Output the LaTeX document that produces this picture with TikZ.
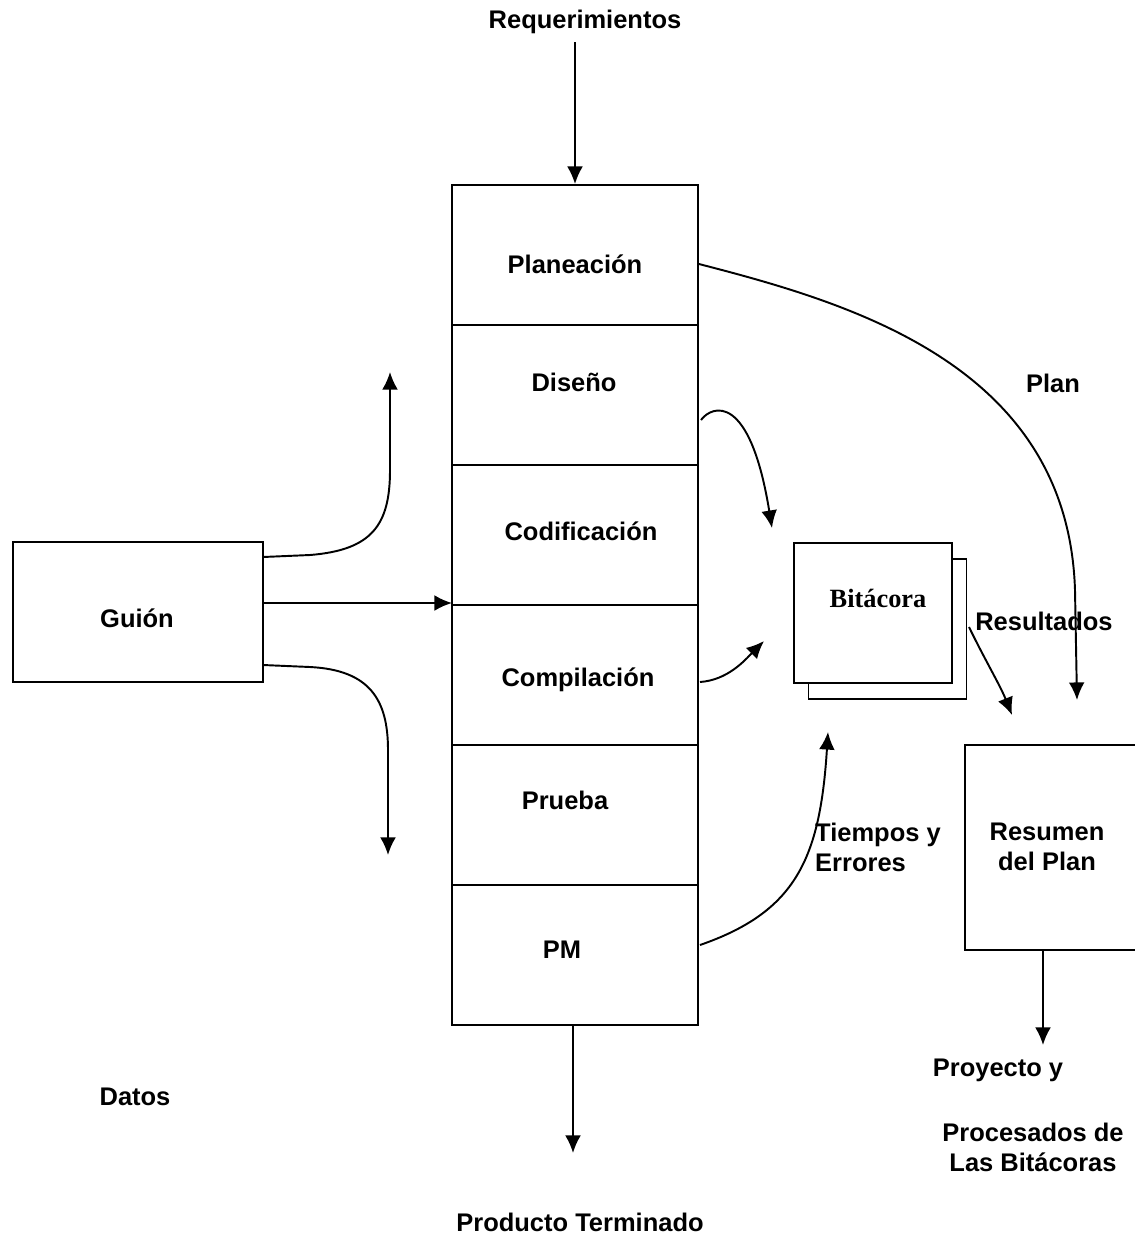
\documentclass[tikz,border=0pt]{standalone}
\usepackage{fontspec}
\setmainfont{Liberation Sans}
\newfontfamily\logfont{Liberation Serif}
\usetikzlibrary{arrows.meta}
\begin{document}
\begin{tikzpicture}[x=0.02cm,y=-0.02cm,
  line width=1.1pt,
  lbl/.style={font=\bfseries\fontsize{14.5}{17}\selectfont, inner sep=0pt, align=center},
  cell/.style={draw, minimum width=4.92cm, minimum height=2.8cm, inner sep=0pt},
  plainbox/.style={draw, fill=white, inner sep=0pt},
  flow/.style={-{Latex[length=10pt,width=9pt]}}]
\useasboundingbox (0,0) rectangle (1135,1259);

% main process column
\node[cell] (plan) at (575,255) {};
\node[cell] (dis)  at (575,395) {};
\node[cell] (cod)  at (575,535) {};
\node[cell] (comp) at (575,675) {};
\node[cell] (prue) at (575,815) {};
\node[cell] (pm)   at (575,955) {};
\node[lbl] (tplan) at (575,264) {Planeación};
\node[lbl] (tdis)  at (574,382) {Diseño};
\node[lbl] (tcod)  at (581,531) {Codificación};
\node[lbl] (tcomp) at (578,680) {Compilación};
\node[lbl] (tprue) at (565,800) {Prueba};
\node[lbl] (tpm)   at (562,950) {PM};

% inputs and outputs
\node[lbl] (req) at (585,22) {Requerimientos};
\coordinate (reqend) at (575,42);
\draw[flow] (reqend) -- (plan.north);

\node[draw, minimum width=5cm, minimum height=2.8cm, inner sep=0pt] (guion) at (138,612) {};
\node[lbl] (tguion) at (137,618) {Guión};
\coordinate (gin) at (452,603);
\draw[flow] (guion.east |- gin) -- (gin);
\coordinate (gup) at (390,372);
\coordinate (gdown) at (388,855);
\draw[flow] (263,557) -- (310,555) .. controls (372,550) and (390,525) .. (390,470) -- (gup);
\draw[flow] (263,665) -- (310,667) .. controls (370,670) and (388,700) .. (388,750) -- (gdown);

\node[lbl] (datos) at (135,1097) {Datos};

\coordinate (prodend) at (573,1153);
\draw[flow] (pm.south -| prodend) -- (prodend);
\node[lbl] (prod) at (580,1222) {Producto Terminado};

% log sheets
\node[plainbox, minimum width=3.16cm, minimum height=2.8cm] (bitb) at (887.5,629) {};
\node[plainbox, minimum width=3.16cm, minimum height=2.8cm] (bit) at (873,613) {};
\node[font=\logfont\bfseries\fontsize{15}{18}\selectfont, inner sep=0pt] (tbit) at (878,598) {Bitácora};

\coordinate (dend) at (772,528);
\draw[flow] (701,420) .. controls (712,405) and (750,392) .. (dend);
\coordinate (cend) at (764,641);
\draw[flow] (700,682) .. controls (728,680) and (745,660) .. (cend);
\coordinate (pmend) at (828,732);
\draw[flow] (700,945) .. controls (795,912) and (820,860) .. (pmend);
\node[lbl, align=left] (tiempos) at (878,847) {Tiempos y\\Errores};

% plan summary
\node[plainbox, minimum width=3.6cm, minimum height=4.1cm] (res) at (1055,847.5) {};
\node[lbl] (tres) at (1047,847) {Resumen\\del Plan};
\coordinate (planend) at (1077,700);
\draw[flow] (plan.east |- tplan) .. controls (850,303) and (1068,365) .. (1075,590) -- (planend);
\node[lbl] (tplan2) at (1053,383) {Plan};
\node[lbl] (tresul) at (1044,621) {Resultados};
\coordinate (rstart) at (969,627);
\coordinate (rend) at (1012,715);
\draw[flow] (rstart) .. controls (985,660) and (1000,685) .. (rend);

\coordinate (outend) at (1043,1045);
\draw[flow] (res.south -| outend) -- (outend);
\node[lbl] (proy) at (998,1070) {Proyecto y};
\node[lbl] (proc) at (1033,1147) {Procesados de\\Las Bitácoras};
\end{tikzpicture}
\end{document}
